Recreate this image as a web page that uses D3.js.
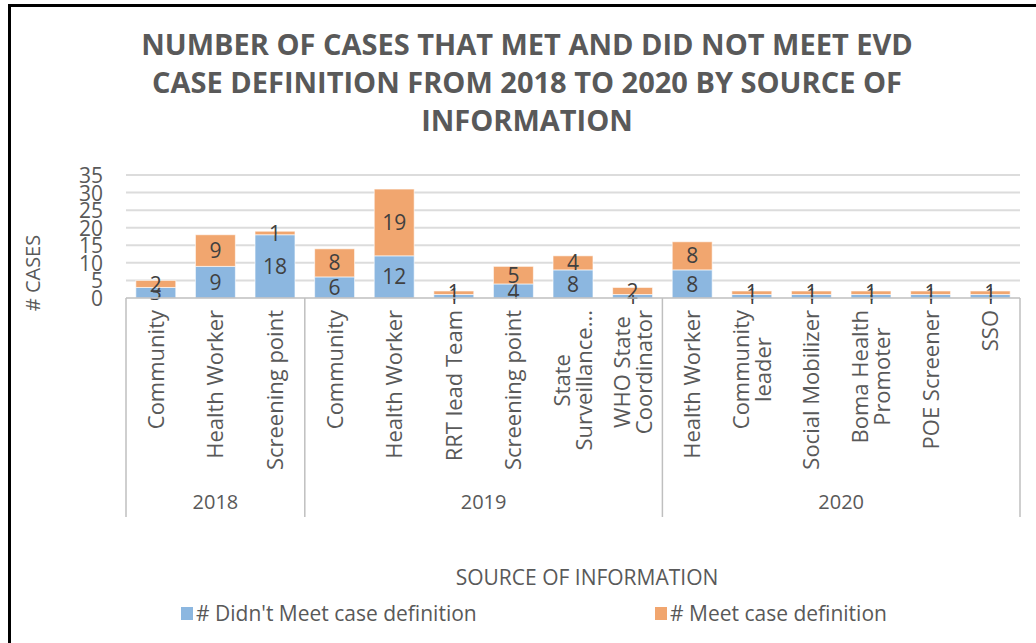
<!DOCTYPE html>
<html>
<head>
<meta charset="utf-8">
<script src="https://cdn.jsdelivr.net/npm/d3@7"></script>
<style>
  body { margin: 0; background: #fff; }
  svg text { font-family: "Open Sans", sans-serif; }
</style>
</head>
<body>
<div class="chart"></div>
<script>
var width = 1036;
var height = 643;

// data
var years = ["2018", "2019", "2020"];
var categoryYear = ["2018", "2018", "2018",
  "2019", "2019", "2019", "2019", "2019", "2019",
  "2020", "2020", "2020", "2020", "2020", "2020"];
var categoryLabels = ["Community", "Health Worker", "Screening point",
  "Community", "Health Worker", "RRT lead Team", "Screening point", "State|Surveillance...", "WHO State|Coordinator",
  "Health Worker", "Community|leader", "Social Mobilizer", "Boma Health|Promoter", "POE Screener", "SSO"];
var didntMeet = [3, 9, 18, 6, 12, 1, 4, 8, 1, 8, 1, 1, 1, 1, 1];
var meet = [2, 9, 1, 8, 19, 1, 5, 4, 2, 8, 1, 1, 1, 1, 1];
var seriesNames = ["# Didn't Meet case definition", "# Meet case definition"];
var yTicks = [0, 5, 10, 15, 20, 25, 30, 35];
var titleLines = ["NUMBER OF CASES THAT MET AND DID NOT MEET EVD",
  "CASE DEFINITION FROM 2018 TO 2020 BY SOURCE OF",
  "INFORMATION"];

var colors = ["#8cb7e0", "#f1a66f"];
var textColor = "#595959";
var labelColor = "#404040";

var plot = { left: 126, right: 1020, top: 175, bottom: 298 };
var axisBottom = 517;

var svg = d3.select(".chart").append("svg")
  .attr("width", width)
  .attr("height", height);

// frame round the chart (cut off at right and bottom)
svg.append("rect")
  .attr("x", 9.5).attr("y", 5.5)
  .attr("width", 1200).attr("height", 800)
  .style("fill", "none")
  .style("stroke", "#000")
  .style("stroke-width", 3);

// title
svg.append("g").selectAll("text")
  .data(titleLines)
  .enter().append("text")
  .attr("x", 527)
  .attr("y", function (d, i) { return 55 + i * 38; })
  .attr("text-anchor", "middle")
  .style("font-size", "29px")
  .style("font-weight", "bold")
  .style("fill", textColor)
  .text(function (d) { return d; });

var x = d3.scaleBand()
  .domain(d3.range(categoryLabels.length))
  .range([plot.left, plot.right])
  .paddingInner(0.33)
  .paddingOuter(0.165);

var y = d3.scaleLinear()
  .domain([0, 35])
  .range([plot.bottom, plot.top]);

// gridlines
svg.append("g").selectAll("line")
  .data(yTicks.slice(1))
  .enter().append("line")
  .attr("x1", plot.left).attr("x2", plot.right)
  .attr("y1", function (d) { return y(d); })
  .attr("y2", function (d) { return y(d); })
  .style("stroke", "#dcdcdc")
  .style("stroke-width", 2);

// y axis labels
var yAxis = svg.append("g")
  .attr("transform", "translate(" + (plot.left - 10) + ",0)")
  .call(d3.axisLeft(y).tickValues(yTicks).tickSize(0).tickPadding(13));
yAxis.select(".domain").remove();
yAxis.selectAll("text")
  .style("font-size", "21px")
  .style("fill", textColor)
  .attr("dy", "0.36em");

svg.append("text")
  .attr("transform", "translate(40,273) rotate(-90)")
  .attr("text-anchor", "middle")
  .style("font-size", "20px")
  .style("fill", textColor)
  .text("# CASES");

// stacked bars
var stackData = didntMeet.map(function (d, i) {
  return { i: i, didnt: d, meet: meet[i] };
});
var series = d3.stack().keys(["didnt", "meet"])(stackData);

var layer = svg.append("g").selectAll("g")
  .data(series)
  .enter().append("g")
  .style("fill", function (d, i) { return colors[i]; });

layer.selectAll("rect")
  .data(function (d) { return d; })
  .enter().append("rect")
  .attr("x", function (d) { return x(d.data.i); })
  .attr("width", x.bandwidth())
  .attr("y", function (d) { return y(d[1]); })
  .attr("height", function (d) { return y(d[0]) - y(d[1]); })
  .style("stroke", "#fff")
  .style("stroke-opacity", 0.6)
  .style("stroke-width", 1);

// data labels
layer.selectAll("text")
  .data(function (d) { return d; })
  .enter().append("text")
  .attr("x", function (d) { return x(d.data.i) + x.bandwidth() / 2; })
  .attr("y", function (d) { return (y(d[0]) + y(d[1])) / 2; })
  .attr("dy", "0.36em")
  .attr("text-anchor", "middle")
  .style("font-size", "21px")
  .style("fill", labelColor)
  .text(function (d) { return d[1] - d[0]; });

// category axis
svg.append("line")
  .attr("x1", plot.left).attr("x2", plot.right)
  .attr("y1", plot.bottom).attr("y2", plot.bottom)
  .style("stroke", "#bfbfbf")
  .style("stroke-width", 1.5);

var groupEdges = [0];
years.forEach(function (yr) {
  groupEdges.push(d3.max(d3.range(categoryYear.length).filter(function (i) {
    return categoryYear[i] == yr;
  })) + 1);
});
var edgeX = function (i) { return plot.left + i * x.step(); };

svg.append("g").selectAll("line")
  .data(groupEdges)
  .enter().append("line")
  .attr("x1", edgeX).attr("x2", edgeX)
  .attr("y1", plot.bottom).attr("y2", axisBottom)
  .style("stroke", "#bfbfbf")
  .style("stroke-width", 1.5);

svg.append("g").selectAll("text")
  .data(years)
  .enter().append("text")
  .attr("x", function (d, i) { return (edgeX(groupEdges[i]) + edgeX(groupEdges[i + 1])) / 2; })
  .attr("y", 509)
  .attr("text-anchor", "middle")
  .style("font-size", "20px")
  .style("fill", textColor)
  .text(function (d) { return d; });

// rotated source labels, lines centred on the longest one
var labelTop = 310;
var catLabel = svg.append("g").selectAll("g")
  .data(categoryLabels)
  .enter().append("g");

catLabel.each(function (d, i) {
  var lines = d.split("|");
  var g = d3.select(this);
  var cx = x(i) + x.bandwidth() / 2;
  var lineGap = 22;
  var texts = lines.map(function (line, k) {
    var off = (k - (lines.length - 1) / 2) * lineGap;
    return g.append("text")
      .attr("text-anchor", "middle")
      .attr("dy", "0.36em")
      .style("font-size", "22px")
      .style("fill", textColor)
      .attr("data-off", off)
      .text(line);
  });
  var longest = d3.max(texts, function (t) { return t.node().getComputedTextLength(); });
  texts.forEach(function (t) {
    var off = +t.attr("data-off");
    t.attr("transform", "translate(" + (cx + off) + "," + (labelTop + longest / 2) + ") rotate(-90)");
  });
});

svg.append("text")
  .attr("x", 587)
  .attr("y", 585)
  .attr("text-anchor", "middle")
  .style("font-size", "21px")
  .style("fill", textColor)
  .text("SOURCE OF INFORMATION");

// legend
var legendX = [181, 655];
var legend = svg.append("g").selectAll("g")
  .data(seriesNames)
  .enter().append("g")
  .attr("transform", function (d, i) { return "translate(" + legendX[i] + ",607)"; });

legend.append("rect")
  .attr("width", 12).attr("height", 13)
  .style("fill", function (d, i) { return colors[i]; });

legend.append("text")
  .attr("x", 15)
  .attr("y", 14)
  .style("font-size", "21px")
  .style("fill", textColor)
  .text(function (d) { return d; });
</script>
</body>
</html>
